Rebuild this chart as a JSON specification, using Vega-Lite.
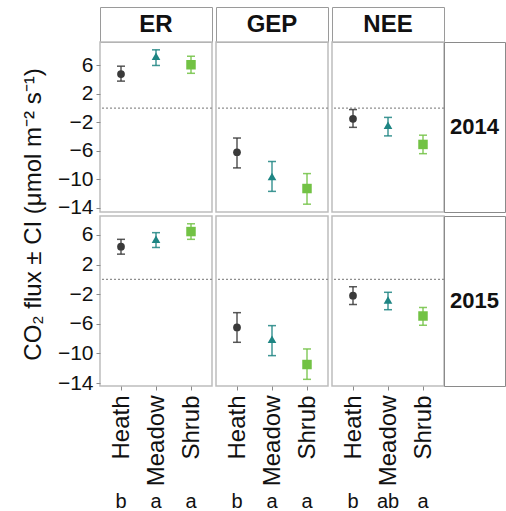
{
  "$schema": "https://vega.github.io/schema/vega-lite/v6.json",
  "padding": {"left": 20, "top": 6, "right": 0, "bottom": 0},
  "background": "white",
  "config": {
    "font": "Liberation Sans",
    "view": {"stroke": "#bdbdbd", "strokeWidth": 1.5},
    "text": {"color": "#111111"}
  },
  "datasets": {
    "flux": [
      {"year": 2014, "flux": "ER", "site": "Heath", "mean": 4.8, "lo": 3.8, "hi": 5.9},
      {"year": 2014, "flux": "ER", "site": "Meadow", "mean": 7.3, "lo": 6.0, "hi": 8.2},
      {"year": 2014, "flux": "ER", "site": "Shrub", "mean": 6.1, "lo": 4.9, "hi": 7.3},
      {"year": 2014, "flux": "GEP", "site": "Heath", "mean": -6.2, "lo": -8.4, "hi": -4.2},
      {"year": 2014, "flux": "GEP", "site": "Meadow", "mean": -9.6, "lo": -11.7, "hi": -7.5},
      {"year": 2014, "flux": "GEP", "site": "Shrub", "mean": -11.3, "lo": -13.5, "hi": -9.2},
      {"year": 2014, "flux": "NEE", "site": "Heath", "mean": -1.5, "lo": -2.7, "hi": -0.2},
      {"year": 2014, "flux": "NEE", "site": "Meadow", "mean": -2.4, "lo": -3.9, "hi": -1.3},
      {"year": 2014, "flux": "NEE", "site": "Shrub", "mean": -5.1, "lo": -6.4, "hi": -3.8},
      {"year": 2015, "flux": "ER", "site": "Heath", "mean": 4.4, "lo": 3.4, "hi": 5.4},
      {"year": 2015, "flux": "ER", "site": "Meadow", "mean": 5.4, "lo": 4.3, "hi": 6.3},
      {"year": 2015, "flux": "ER", "site": "Shrub", "mean": 6.45, "lo": 5.4, "hi": 7.5},
      {"year": 2015, "flux": "GEP", "site": "Heath", "mean": -6.5, "lo": -8.5, "hi": -4.5},
      {"year": 2015, "flux": "GEP", "site": "Meadow", "mean": -8.1, "lo": -10.3, "hi": -6.25},
      {"year": 2015, "flux": "GEP", "site": "Shrub", "mean": -11.5, "lo": -13.5, "hi": -9.4},
      {"year": 2015, "flux": "NEE", "site": "Heath", "mean": -2.2, "lo": -3.4, "hi": -1.0},
      {"year": 2015, "flux": "NEE", "site": "Meadow", "mean": -2.8, "lo": -4.1, "hi": -1.75},
      {"year": 2015, "flux": "NEE", "site": "Shrub", "mean": -4.95, "lo": -6.2, "hi": -3.8}
    ],
    "letters": [
      {"flux": "ER", "site": "Heath", "letter": "b"},
      {"flux": "ER", "site": "Meadow", "letter": "a"},
      {"flux": "ER", "site": "Shrub", "letter": "a"},
      {"flux": "GEP", "site": "Heath", "letter": "b"},
      {"flux": "GEP", "site": "Meadow", "letter": "a"},
      {"flux": "GEP", "site": "Shrub", "letter": "a"},
      {"flux": "NEE", "site": "Heath", "letter": "b"},
      {"flux": "NEE", "site": "Meadow", "letter": "ab"},
      {"flux": "NEE", "site": "Shrub", "letter": "a"}
    ]
  },
  "columns": 6,
  "spacing": 0,
  "bounds": "flush",
  "align": "each",
  "concat": [
    {"width": 112, "height": 35, "view": {"stroke": "#9a9a9a"}, "data": {"values": [{"flux": "ER"}]}, "mark": {"type": "text", "fontSize": 24, "fontWeight": "bold"}, "encoding": {"text": {"field": "flux"}}},
    {"width": 4, "height": 4, "view": {"stroke": null}, "data": {"values": []}, "mark": "point"},
    {"width": 112, "height": 35, "view": {"stroke": "#9a9a9a"}, "data": {"values": [{"flux": "GEP"}]}, "mark": {"type": "text", "fontSize": 24, "fontWeight": "bold"}, "encoding": {"text": {"field": "flux"}}},
    {"width": 4, "height": 4, "view": {"stroke": null}, "data": {"values": []}, "mark": "point"},
    {"width": 112, "height": 35, "view": {"stroke": "#9a9a9a"}, "data": {"values": [{"flux": "NEE"}]}, "mark": {"type": "text", "fontSize": 24, "fontWeight": "bold"}, "encoding": {"text": {"field": "flux"}}},
    {"width": 4, "height": 4, "view": {"stroke": null}, "data": {"values": []}, "mark": "point"},

    {
      "width": 112, "height": 170,
      "data": {"name": "flux"},
      "transform": [{"filter": "datum.year == 2014 && datum.flux == 'ER'"}],
      "layer": [
        {"data": {"values": [{}]}, "mark": {"type": "rule", "strokeDash": [2, 2], "color": "#8f8f8f", "strokeWidth": 1.2}, "encoding": {"y": {"datum": 0, "type": "quantitative", "scale": {"domain": [-14.6, 9.3], "nice": false, "zero": false}, "axis": {"values": [6, 2, -2, -6, -10, -14], "title": null, "grid": false, "domain": false, "tickSize": 4, "tickColor": "#8a8a8a", "labelFontSize": 21, "labelColor": "#111111", "labelPadding": 3}}}},
        {"mark": {"type": "rule", "strokeWidth": 1.5, "opacity": 0.85}, "encoding": {"x": {"field": "site", "type": "nominal", "scale": {"type": "point", "padding": 0.6, "domain": ["Heath", "Meadow", "Shrub"]}, "axis": null}, "y": {"field": "lo", "type": "quantitative", "scale": {"domain": [-14.6, 9.3], "nice": false, "zero": false}, "axis": {"values": [6, 2, -2, -6, -10, -14], "title": null, "grid": false, "domain": false, "tickSize": 4, "tickColor": "#8a8a8a", "labelFontSize": 21, "labelColor": "#111111", "labelPadding": 3}}, "y2": {"field": "hi"}, "color": {"field": "site", "type": "nominal", "scale": {"domain": ["Heath", "Meadow", "Shrub"], "range": ["#3a3a3a", "#1e8583", "#72c244"]}, "legend": null}}},
        {"mark": {"type": "tick", "orient": "horizontal", "size": 8, "thickness": 1.5, "opacity": 0.85}, "encoding": {"x": {"field": "site", "type": "nominal", "scale": {"type": "point", "padding": 0.6, "domain": ["Heath", "Meadow", "Shrub"]}, "axis": null}, "y": {"field": "lo", "type": "quantitative", "scale": {"domain": [-14.6, 9.3], "nice": false, "zero": false}, "axis": {"values": [6, 2, -2, -6, -10, -14], "title": null, "grid": false, "domain": false, "tickSize": 4, "tickColor": "#8a8a8a", "labelFontSize": 21, "labelColor": "#111111", "labelPadding": 3}}, "color": {"field": "site", "type": "nominal", "scale": {"domain": ["Heath", "Meadow", "Shrub"], "range": ["#3a3a3a", "#1e8583", "#72c244"]}, "legend": null}}},
        {"mark": {"type": "tick", "orient": "horizontal", "size": 8, "thickness": 1.5, "opacity": 0.85}, "encoding": {"x": {"field": "site", "type": "nominal", "scale": {"type": "point", "padding": 0.6, "domain": ["Heath", "Meadow", "Shrub"]}, "axis": null}, "y": {"field": "hi", "type": "quantitative", "scale": {"domain": [-14.6, 9.3], "nice": false, "zero": false}, "axis": {"values": [6, 2, -2, -6, -10, -14], "title": null, "grid": false, "domain": false, "tickSize": 4, "tickColor": "#8a8a8a", "labelFontSize": 21, "labelColor": "#111111", "labelPadding": 3}}, "color": {"field": "site", "type": "nominal", "scale": {"domain": ["Heath", "Meadow", "Shrub"], "range": ["#3a3a3a", "#1e8583", "#72c244"]}, "legend": null}}},
        {"mark": {"type": "point", "filled": true, "opacity": 1}, "encoding": {"x": {"field": "site", "type": "nominal", "scale": {"type": "point", "padding": 0.6, "domain": ["Heath", "Meadow", "Shrub"]}, "axis": null}, "y": {"field": "mean", "type": "quantitative", "scale": {"domain": [-14.6, 9.3], "nice": false, "zero": false}, "axis": {"values": [6, 2, -2, -6, -10, -14], "title": null, "grid": false, "domain": false, "tickSize": 4, "tickColor": "#8a8a8a", "labelFontSize": 21, "labelColor": "#111111", "labelPadding": 3}}, "color": {"field": "site", "type": "nominal", "scale": {"domain": ["Heath", "Meadow", "Shrub"], "range": ["#3a3a3a", "#1e8583", "#72c244"]}, "legend": null}, "shape": {"field": "site", "type": "nominal", "scale": {"domain": ["Heath", "Meadow", "Shrub"], "range": ["circle", "triangle-up", "square"]}, "legend": null}, "size": {"field": "site", "type": "nominal", "scale": {"domain": ["Heath", "Meadow", "Shrub"], "range": [60, 90, 60]}, "legend": null}}}
      ]
    },
    {"width": 4, "height": 4, "view": {"stroke": null}, "data": {"values": []}, "mark": "point"},
    {
      "width": 112, "height": 170,
      "data": {"name": "flux"},
      "transform": [{"filter": "datum.year == 2014 && datum.flux == 'GEP'"}],
      "layer": [
        {"data": {"values": [{}]}, "mark": {"type": "rule", "strokeDash": [2, 2], "color": "#8f8f8f", "strokeWidth": 1.2}, "encoding": {"y": {"datum": 0, "type": "quantitative", "scale": {"domain": [-14.6, 9.3], "nice": false, "zero": false}, "axis": null}}},
        {"mark": {"type": "rule", "strokeWidth": 1.5, "opacity": 0.85}, "encoding": {"x": {"field": "site", "type": "nominal", "scale": {"type": "point", "padding": 0.6, "domain": ["Heath", "Meadow", "Shrub"]}, "axis": null}, "y": {"field": "lo", "type": "quantitative", "scale": {"domain": [-14.6, 9.3], "nice": false, "zero": false}, "axis": null}, "y2": {"field": "hi"}, "color": {"field": "site", "type": "nominal", "scale": {"domain": ["Heath", "Meadow", "Shrub"], "range": ["#3a3a3a", "#1e8583", "#72c244"]}, "legend": null}}},
        {"mark": {"type": "tick", "orient": "horizontal", "size": 8, "thickness": 1.5, "opacity": 0.85}, "encoding": {"x": {"field": "site", "type": "nominal", "scale": {"type": "point", "padding": 0.6, "domain": ["Heath", "Meadow", "Shrub"]}, "axis": null}, "y": {"field": "lo", "type": "quantitative", "scale": {"domain": [-14.6, 9.3], "nice": false, "zero": false}, "axis": null}, "color": {"field": "site", "type": "nominal", "scale": {"domain": ["Heath", "Meadow", "Shrub"], "range": ["#3a3a3a", "#1e8583", "#72c244"]}, "legend": null}}},
        {"mark": {"type": "tick", "orient": "horizontal", "size": 8, "thickness": 1.5, "opacity": 0.85}, "encoding": {"x": {"field": "site", "type": "nominal", "scale": {"type": "point", "padding": 0.6, "domain": ["Heath", "Meadow", "Shrub"]}, "axis": null}, "y": {"field": "hi", "type": "quantitative", "scale": {"domain": [-14.6, 9.3], "nice": false, "zero": false}, "axis": null}, "color": {"field": "site", "type": "nominal", "scale": {"domain": ["Heath", "Meadow", "Shrub"], "range": ["#3a3a3a", "#1e8583", "#72c244"]}, "legend": null}}},
        {"mark": {"type": "point", "filled": true, "opacity": 1}, "encoding": {"x": {"field": "site", "type": "nominal", "scale": {"type": "point", "padding": 0.6, "domain": ["Heath", "Meadow", "Shrub"]}, "axis": null}, "y": {"field": "mean", "type": "quantitative", "scale": {"domain": [-14.6, 9.3], "nice": false, "zero": false}, "axis": null}, "color": {"field": "site", "type": "nominal", "scale": {"domain": ["Heath", "Meadow", "Shrub"], "range": ["#3a3a3a", "#1e8583", "#72c244"]}, "legend": null}, "shape": {"field": "site", "type": "nominal", "scale": {"domain": ["Heath", "Meadow", "Shrub"], "range": ["circle", "triangle-up", "square"]}, "legend": null}, "size": {"field": "site", "type": "nominal", "scale": {"domain": ["Heath", "Meadow", "Shrub"], "range": [60, 90, 60]}, "legend": null}}}
      ]
    },
    {"width": 4, "height": 4, "view": {"stroke": null}, "data": {"values": []}, "mark": "point"},
    {
      "width": 112, "height": 170,
      "data": {"name": "flux"},
      "transform": [{"filter": "datum.year == 2014 && datum.flux == 'NEE'"}],
      "layer": [
        {"data": {"values": [{}]}, "mark": {"type": "rule", "strokeDash": [2, 2], "color": "#8f8f8f", "strokeWidth": 1.2}, "encoding": {"y": {"datum": 0, "type": "quantitative", "scale": {"domain": [-14.6, 9.3], "nice": false, "zero": false}, "axis": null}}},
        {"mark": {"type": "rule", "strokeWidth": 1.5, "opacity": 0.85}, "encoding": {"x": {"field": "site", "type": "nominal", "scale": {"type": "point", "padding": 0.6, "domain": ["Heath", "Meadow", "Shrub"]}, "axis": null}, "y": {"field": "lo", "type": "quantitative", "scale": {"domain": [-14.6, 9.3], "nice": false, "zero": false}, "axis": null}, "y2": {"field": "hi"}, "color": {"field": "site", "type": "nominal", "scale": {"domain": ["Heath", "Meadow", "Shrub"], "range": ["#3a3a3a", "#1e8583", "#72c244"]}, "legend": null}}},
        {"mark": {"type": "tick", "orient": "horizontal", "size": 8, "thickness": 1.5, "opacity": 0.85}, "encoding": {"x": {"field": "site", "type": "nominal", "scale": {"type": "point", "padding": 0.6, "domain": ["Heath", "Meadow", "Shrub"]}, "axis": null}, "y": {"field": "lo", "type": "quantitative", "scale": {"domain": [-14.6, 9.3], "nice": false, "zero": false}, "axis": null}, "color": {"field": "site", "type": "nominal", "scale": {"domain": ["Heath", "Meadow", "Shrub"], "range": ["#3a3a3a", "#1e8583", "#72c244"]}, "legend": null}}},
        {"mark": {"type": "tick", "orient": "horizontal", "size": 8, "thickness": 1.5, "opacity": 0.85}, "encoding": {"x": {"field": "site", "type": "nominal", "scale": {"type": "point", "padding": 0.6, "domain": ["Heath", "Meadow", "Shrub"]}, "axis": null}, "y": {"field": "hi", "type": "quantitative", "scale": {"domain": [-14.6, 9.3], "nice": false, "zero": false}, "axis": null}, "color": {"field": "site", "type": "nominal", "scale": {"domain": ["Heath", "Meadow", "Shrub"], "range": ["#3a3a3a", "#1e8583", "#72c244"]}, "legend": null}}},
        {"mark": {"type": "point", "filled": true, "opacity": 1}, "encoding": {"x": {"field": "site", "type": "nominal", "scale": {"type": "point", "padding": 0.6, "domain": ["Heath", "Meadow", "Shrub"]}, "axis": null}, "y": {"field": "mean", "type": "quantitative", "scale": {"domain": [-14.6, 9.3], "nice": false, "zero": false}, "axis": null}, "color": {"field": "site", "type": "nominal", "scale": {"domain": ["Heath", "Meadow", "Shrub"], "range": ["#3a3a3a", "#1e8583", "#72c244"]}, "legend": null}, "shape": {"field": "site", "type": "nominal", "scale": {"domain": ["Heath", "Meadow", "Shrub"], "range": ["circle", "triangle-up", "square"]}, "legend": null}, "size": {"field": "site", "type": "nominal", "scale": {"domain": ["Heath", "Meadow", "Shrub"], "range": [60, 90, 60]}, "legend": null}}}
      ]
    },
    {"width": 61, "height": 170, "view": {"stroke": "#8a8a8a"}, "data": {"values": [{"year": "2014"}]}, "mark": {"type": "text", "fontSize": 22, "fontWeight": "bold"}, "encoding": {"text": {"field": "year"}}},

    {"width": 4, "height": 4, "view": {"stroke": null}, "data": {"values": []}, "mark": "point"},
    {"width": 4, "height": 4, "view": {"stroke": null}, "data": {"values": []}, "mark": "point"},
    {"width": 4, "height": 4, "view": {"stroke": null}, "data": {"values": []}, "mark": "point"},
    {"width": 4, "height": 4, "view": {"stroke": null}, "data": {"values": []}, "mark": "point"},
    {"width": 4, "height": 4, "view": {"stroke": null}, "data": {"values": []}, "mark": "point"},
    {"width": 4, "height": 4, "view": {"stroke": null}, "data": {"values": []}, "mark": "point"},

    {
      "width": 112, "height": 170,
      "data": {"name": "flux"},
      "transform": [{"filter": "datum.year == 2015 && datum.flux == 'ER'"}],
      "layer": [
        {"data": {"values": [{}]}, "mark": {"type": "rule", "strokeDash": [2, 2], "color": "#8f8f8f", "strokeWidth": 1.2}, "encoding": {"y": {"datum": 0, "type": "quantitative", "scale": {"domain": [-14.4, 8.55], "nice": false, "zero": false}, "axis": {"values": [6, 2, -2, -6, -10, -14], "title": "CO₂ flux ± CI (μmol m⁻² s⁻¹)", "titleFontSize": 24, "titleFontWeight": "normal", "titleColor": "#111111", "titleY": -2, "titlePadding": 12, "grid": false, "domain": false, "tickSize": 4, "tickColor": "#8a8a8a", "labelFontSize": 21, "labelColor": "#111111", "labelPadding": 3}}}},
        {"mark": {"type": "rule", "strokeWidth": 1.5, "opacity": 0.85}, "encoding": {"x": {"field": "site", "type": "nominal", "scale": {"type": "point", "padding": 0.6, "domain": ["Heath", "Meadow", "Shrub"]}, "axis": {"title": null, "labelAngle": 270, "labelFontSize": 24, "labelColor": "#111111", "tickSize": 4, "tickColor": "#8a8a8a", "domain": false, "grid": false, "labelPadding": 5}}, "y": {"field": "lo", "type": "quantitative", "scale": {"domain": [-14.4, 8.55], "nice": false, "zero": false}, "axis": {"values": [6, 2, -2, -6, -10, -14], "title": "CO₂ flux ± CI (μmol m⁻² s⁻¹)", "titleFontSize": 24, "titleFontWeight": "normal", "titleColor": "#111111", "titleY": -2, "titlePadding": 12, "grid": false, "domain": false, "tickSize": 4, "tickColor": "#8a8a8a", "labelFontSize": 21, "labelColor": "#111111", "labelPadding": 3}}, "y2": {"field": "hi"}, "color": {"field": "site", "type": "nominal", "scale": {"domain": ["Heath", "Meadow", "Shrub"], "range": ["#3a3a3a", "#1e8583", "#72c244"]}, "legend": null}}},
        {"mark": {"type": "tick", "orient": "horizontal", "size": 8, "thickness": 1.5, "opacity": 0.85}, "encoding": {"x": {"field": "site", "type": "nominal", "scale": {"type": "point", "padding": 0.6, "domain": ["Heath", "Meadow", "Shrub"]}, "axis": {"title": null, "labelAngle": 270, "labelFontSize": 24, "labelColor": "#111111", "tickSize": 4, "tickColor": "#8a8a8a", "domain": false, "grid": false, "labelPadding": 5}}, "y": {"field": "lo", "type": "quantitative", "scale": {"domain": [-14.4, 8.55], "nice": false, "zero": false}, "axis": {"values": [6, 2, -2, -6, -10, -14], "title": "CO₂ flux ± CI (μmol m⁻² s⁻¹)", "titleFontSize": 24, "titleFontWeight": "normal", "titleColor": "#111111", "titleY": -2, "titlePadding": 12, "grid": false, "domain": false, "tickSize": 4, "tickColor": "#8a8a8a", "labelFontSize": 21, "labelColor": "#111111", "labelPadding": 3}}, "color": {"field": "site", "type": "nominal", "scale": {"domain": ["Heath", "Meadow", "Shrub"], "range": ["#3a3a3a", "#1e8583", "#72c244"]}, "legend": null}}},
        {"mark": {"type": "tick", "orient": "horizontal", "size": 8, "thickness": 1.5, "opacity": 0.85}, "encoding": {"x": {"field": "site", "type": "nominal", "scale": {"type": "point", "padding": 0.6, "domain": ["Heath", "Meadow", "Shrub"]}, "axis": {"title": null, "labelAngle": 270, "labelFontSize": 24, "labelColor": "#111111", "tickSize": 4, "tickColor": "#8a8a8a", "domain": false, "grid": false, "labelPadding": 5}}, "y": {"field": "hi", "type": "quantitative", "scale": {"domain": [-14.4, 8.55], "nice": false, "zero": false}, "axis": {"values": [6, 2, -2, -6, -10, -14], "title": "CO₂ flux ± CI (μmol m⁻² s⁻¹)", "titleFontSize": 24, "titleFontWeight": "normal", "titleColor": "#111111", "titleY": -2, "titlePadding": 12, "grid": false, "domain": false, "tickSize": 4, "tickColor": "#8a8a8a", "labelFontSize": 21, "labelColor": "#111111", "labelPadding": 3}}, "color": {"field": "site", "type": "nominal", "scale": {"domain": ["Heath", "Meadow", "Shrub"], "range": ["#3a3a3a", "#1e8583", "#72c244"]}, "legend": null}}},
        {"mark": {"type": "point", "filled": true, "opacity": 1}, "encoding": {"x": {"field": "site", "type": "nominal", "scale": {"type": "point", "padding": 0.6, "domain": ["Heath", "Meadow", "Shrub"]}, "axis": {"title": null, "labelAngle": 270, "labelFontSize": 24, "labelColor": "#111111", "tickSize": 4, "tickColor": "#8a8a8a", "domain": false, "grid": false, "labelPadding": 5}}, "y": {"field": "mean", "type": "quantitative", "scale": {"domain": [-14.4, 8.55], "nice": false, "zero": false}, "axis": {"values": [6, 2, -2, -6, -10, -14], "title": "CO₂ flux ± CI (μmol m⁻² s⁻¹)", "titleFontSize": 24, "titleFontWeight": "normal", "titleColor": "#111111", "titleY": -2, "titlePadding": 12, "grid": false, "domain": false, "tickSize": 4, "tickColor": "#8a8a8a", "labelFontSize": 21, "labelColor": "#111111", "labelPadding": 3}}, "color": {"field": "site", "type": "nominal", "scale": {"domain": ["Heath", "Meadow", "Shrub"], "range": ["#3a3a3a", "#1e8583", "#72c244"]}, "legend": null}, "shape": {"field": "site", "type": "nominal", "scale": {"domain": ["Heath", "Meadow", "Shrub"], "range": ["circle", "triangle-up", "square"]}, "legend": null}, "size": {"field": "site", "type": "nominal", "scale": {"domain": ["Heath", "Meadow", "Shrub"], "range": [60, 90, 60]}, "legend": null}}}
      ]
    },
    {"width": 4, "height": 4, "view": {"stroke": null}, "data": {"values": []}, "mark": "point"},
    {
      "width": 112, "height": 170,
      "data": {"name": "flux"},
      "transform": [{"filter": "datum.year == 2015 && datum.flux == 'GEP'"}],
      "layer": [
        {"data": {"values": [{}]}, "mark": {"type": "rule", "strokeDash": [2, 2], "color": "#8f8f8f", "strokeWidth": 1.2}, "encoding": {"y": {"datum": 0, "type": "quantitative", "scale": {"domain": [-14.4, 8.55], "nice": false, "zero": false}, "axis": null}}},
        {"mark": {"type": "rule", "strokeWidth": 1.5, "opacity": 0.85}, "encoding": {"x": {"field": "site", "type": "nominal", "scale": {"type": "point", "padding": 0.6, "domain": ["Heath", "Meadow", "Shrub"]}, "axis": {"title": null, "labelAngle": 270, "labelFontSize": 24, "labelColor": "#111111", "tickSize": 4, "tickColor": "#8a8a8a", "domain": false, "grid": false, "labelPadding": 5}}, "y": {"field": "lo", "type": "quantitative", "scale": {"domain": [-14.4, 8.55], "nice": false, "zero": false}, "axis": null}, "y2": {"field": "hi"}, "color": {"field": "site", "type": "nominal", "scale": {"domain": ["Heath", "Meadow", "Shrub"], "range": ["#3a3a3a", "#1e8583", "#72c244"]}, "legend": null}}},
        {"mark": {"type": "tick", "orient": "horizontal", "size": 8, "thickness": 1.5, "opacity": 0.85}, "encoding": {"x": {"field": "site", "type": "nominal", "scale": {"type": "point", "padding": 0.6, "domain": ["Heath", "Meadow", "Shrub"]}, "axis": {"title": null, "labelAngle": 270, "labelFontSize": 24, "labelColor": "#111111", "tickSize": 4, "tickColor": "#8a8a8a", "domain": false, "grid": false, "labelPadding": 5}}, "y": {"field": "lo", "type": "quantitative", "scale": {"domain": [-14.4, 8.55], "nice": false, "zero": false}, "axis": null}, "color": {"field": "site", "type": "nominal", "scale": {"domain": ["Heath", "Meadow", "Shrub"], "range": ["#3a3a3a", "#1e8583", "#72c244"]}, "legend": null}}},
        {"mark": {"type": "tick", "orient": "horizontal", "size": 8, "thickness": 1.5, "opacity": 0.85}, "encoding": {"x": {"field": "site", "type": "nominal", "scale": {"type": "point", "padding": 0.6, "domain": ["Heath", "Meadow", "Shrub"]}, "axis": {"title": null, "labelAngle": 270, "labelFontSize": 24, "labelColor": "#111111", "tickSize": 4, "tickColor": "#8a8a8a", "domain": false, "grid": false, "labelPadding": 5}}, "y": {"field": "hi", "type": "quantitative", "scale": {"domain": [-14.4, 8.55], "nice": false, "zero": false}, "axis": null}, "color": {"field": "site", "type": "nominal", "scale": {"domain": ["Heath", "Meadow", "Shrub"], "range": ["#3a3a3a", "#1e8583", "#72c244"]}, "legend": null}}},
        {"mark": {"type": "point", "filled": true, "opacity": 1}, "encoding": {"x": {"field": "site", "type": "nominal", "scale": {"type": "point", "padding": 0.6, "domain": ["Heath", "Meadow", "Shrub"]}, "axis": {"title": null, "labelAngle": 270, "labelFontSize": 24, "labelColor": "#111111", "tickSize": 4, "tickColor": "#8a8a8a", "domain": false, "grid": false, "labelPadding": 5}}, "y": {"field": "mean", "type": "quantitative", "scale": {"domain": [-14.4, 8.55], "nice": false, "zero": false}, "axis": null}, "color": {"field": "site", "type": "nominal", "scale": {"domain": ["Heath", "Meadow", "Shrub"], "range": ["#3a3a3a", "#1e8583", "#72c244"]}, "legend": null}, "shape": {"field": "site", "type": "nominal", "scale": {"domain": ["Heath", "Meadow", "Shrub"], "range": ["circle", "triangle-up", "square"]}, "legend": null}, "size": {"field": "site", "type": "nominal", "scale": {"domain": ["Heath", "Meadow", "Shrub"], "range": [60, 90, 60]}, "legend": null}}}
      ]
    },
    {"width": 4, "height": 4, "view": {"stroke": null}, "data": {"values": []}, "mark": "point"},
    {
      "width": 112, "height": 170,
      "data": {"name": "flux"},
      "transform": [{"filter": "datum.year == 2015 && datum.flux == 'NEE'"}],
      "layer": [
        {"data": {"values": [{}]}, "mark": {"type": "rule", "strokeDash": [2, 2], "color": "#8f8f8f", "strokeWidth": 1.2}, "encoding": {"y": {"datum": 0, "type": "quantitative", "scale": {"domain": [-14.4, 8.55], "nice": false, "zero": false}, "axis": null}}},
        {"mark": {"type": "rule", "strokeWidth": 1.5, "opacity": 0.85}, "encoding": {"x": {"field": "site", "type": "nominal", "scale": {"type": "point", "padding": 0.6, "domain": ["Heath", "Meadow", "Shrub"]}, "axis": {"title": null, "labelAngle": 270, "labelFontSize": 24, "labelColor": "#111111", "tickSize": 4, "tickColor": "#8a8a8a", "domain": false, "grid": false, "labelPadding": 5}}, "y": {"field": "lo", "type": "quantitative", "scale": {"domain": [-14.4, 8.55], "nice": false, "zero": false}, "axis": null}, "y2": {"field": "hi"}, "color": {"field": "site", "type": "nominal", "scale": {"domain": ["Heath", "Meadow", "Shrub"], "range": ["#3a3a3a", "#1e8583", "#72c244"]}, "legend": null}}},
        {"mark": {"type": "tick", "orient": "horizontal", "size": 8, "thickness": 1.5, "opacity": 0.85}, "encoding": {"x": {"field": "site", "type": "nominal", "scale": {"type": "point", "padding": 0.6, "domain": ["Heath", "Meadow", "Shrub"]}, "axis": {"title": null, "labelAngle": 270, "labelFontSize": 24, "labelColor": "#111111", "tickSize": 4, "tickColor": "#8a8a8a", "domain": false, "grid": false, "labelPadding": 5}}, "y": {"field": "lo", "type": "quantitative", "scale": {"domain": [-14.4, 8.55], "nice": false, "zero": false}, "axis": null}, "color": {"field": "site", "type": "nominal", "scale": {"domain": ["Heath", "Meadow", "Shrub"], "range": ["#3a3a3a", "#1e8583", "#72c244"]}, "legend": null}}},
        {"mark": {"type": "tick", "orient": "horizontal", "size": 8, "thickness": 1.5, "opacity": 0.85}, "encoding": {"x": {"field": "site", "type": "nominal", "scale": {"type": "point", "padding": 0.6, "domain": ["Heath", "Meadow", "Shrub"]}, "axis": {"title": null, "labelAngle": 270, "labelFontSize": 24, "labelColor": "#111111", "tickSize": 4, "tickColor": "#8a8a8a", "domain": false, "grid": false, "labelPadding": 5}}, "y": {"field": "hi", "type": "quantitative", "scale": {"domain": [-14.4, 8.55], "nice": false, "zero": false}, "axis": null}, "color": {"field": "site", "type": "nominal", "scale": {"domain": ["Heath", "Meadow", "Shrub"], "range": ["#3a3a3a", "#1e8583", "#72c244"]}, "legend": null}}},
        {"mark": {"type": "point", "filled": true, "opacity": 1}, "encoding": {"x": {"field": "site", "type": "nominal", "scale": {"type": "point", "padding": 0.6, "domain": ["Heath", "Meadow", "Shrub"]}, "axis": {"title": null, "labelAngle": 270, "labelFontSize": 24, "labelColor": "#111111", "tickSize": 4, "tickColor": "#8a8a8a", "domain": false, "grid": false, "labelPadding": 5}}, "y": {"field": "mean", "type": "quantitative", "scale": {"domain": [-14.4, 8.55], "nice": false, "zero": false}, "axis": null}, "color": {"field": "site", "type": "nominal", "scale": {"domain": ["Heath", "Meadow", "Shrub"], "range": ["#3a3a3a", "#1e8583", "#72c244"]}, "legend": null}, "shape": {"field": "site", "type": "nominal", "scale": {"domain": ["Heath", "Meadow", "Shrub"], "range": ["circle", "triangle-up", "square"]}, "legend": null}, "size": {"field": "site", "type": "nominal", "scale": {"domain": ["Heath", "Meadow", "Shrub"], "range": [60, 90, 60]}, "legend": null}}}
      ]
    },
    {"width": 61, "height": 170, "view": {"stroke": "#8a8a8a"}, "data": {"values": [{"year": "2015"}]}, "mark": {"type": "text", "fontSize": 22, "fontWeight": "bold"}, "encoding": {"text": {"field": "year"}}},

    {"width": 112, "height": 116, "view": {"stroke": null}, "data": {"name": "letters"}, "transform": [{"filter": "datum.flux == 'ER'"}], "mark": {"type": "text", "fontSize": 20, "baseline": "middle"}, "encoding": {"x": {"field": "site", "type": "nominal", "scale": {"type": "point", "padding": 0.6, "domain": ["Heath", "Meadow", "Shrub"]}, "axis": null}, "y": {"datum": 0, "type": "quantitative", "scale": {"domain": [0, 1]}, "axis": null}, "text": {"field": "letter"}}},
    {"width": 4, "height": 4, "view": {"stroke": null}, "data": {"values": []}, "mark": "point"},
    {"width": 112, "height": 116, "view": {"stroke": null}, "data": {"name": "letters"}, "transform": [{"filter": "datum.flux == 'GEP'"}], "mark": {"type": "text", "fontSize": 20, "baseline": "middle"}, "encoding": {"x": {"field": "site", "type": "nominal", "scale": {"type": "point", "padding": 0.6, "domain": ["Heath", "Meadow", "Shrub"]}, "axis": null}, "y": {"datum": 0, "type": "quantitative", "scale": {"domain": [0, 1]}, "axis": null}, "text": {"field": "letter"}}},
    {"width": 4, "height": 4, "view": {"stroke": null}, "data": {"values": []}, "mark": "point"},
    {"width": 112, "height": 116, "view": {"stroke": null}, "data": {"name": "letters"}, "transform": [{"filter": "datum.flux == 'NEE'"}], "mark": {"type": "text", "fontSize": 20, "baseline": "middle"}, "encoding": {"x": {"field": "site", "type": "nominal", "scale": {"type": "point", "padding": 0.6, "domain": ["Heath", "Meadow", "Shrub"]}, "axis": null}, "y": {"datum": 0, "type": "quantitative", "scale": {"domain": [0, 1]}, "axis": null}, "text": {"field": "letter"}}},
    {"width": 4, "height": 4, "view": {"stroke": null}, "data": {"values": []}, "mark": "point"}
  ]
}
